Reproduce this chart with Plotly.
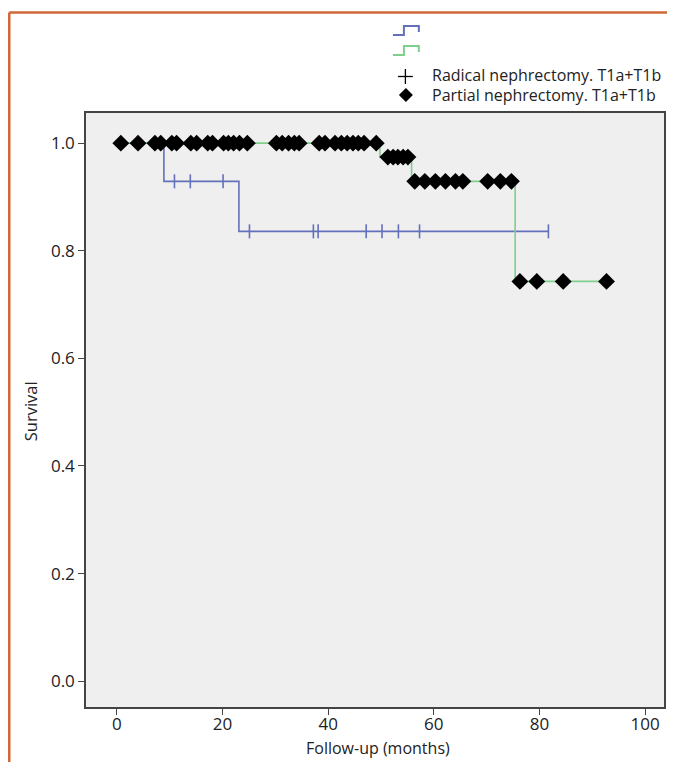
import plotly.graph_objects as go

# ---------------- data ----------------
radical_step_t = [0, 8.9, 23.1, 81.7]
radical_step_s = [1.0, 0.929, 0.836, 0.836]
radical_censor_t = [10.9, 13.9, 20.1, 25.1, 37.2, 38.1, 47.2, 50.2, 53.3, 57.3, 81.7]

partial_step_t = [0, 49.8, 55.8, 75.4, 92.7]
partial_step_s = [1.0, 0.974, 0.929, 0.743, 0.743]
partial_censor_t = [0.75, 4.0, 7.2, 8.3, 10.4, 11.3, 14.0, 15.1, 17.2, 18.1, 20.2, 21.1, 22.1,
                    23.2, 24.7, 30.2, 31.3, 32.5, 33.6, 34.5, 38.3, 39.4, 41.3, 42.5, 43.6,
                    44.7, 45.7, 46.8, 49.1, 51.3, 52.3, 53.2, 54.2, 55.1, 56.4, 58.3, 60.3,
                    62.2, 64.1, 65.5, 70.2, 72.6, 74.7, 76.3, 79.5, 84.5, 92.7]

x_ticks = [0, 20, 40, 60, 80, 100]
y_ticks = [0.0, 0.2, 0.4, 0.6, 0.8, 1.0]
legend_labels = ["Radical nephrectomy. T1a+T1b", "Partial nephrectomy. T1a+T1b"]


def surv_at(t, ts, ss):
    val = ss[0]
    for tt, s in zip(ts, ss):
        if t >= tt:
            val = s
    return val


radical_censor_s = [surv_at(t, radical_step_t, radical_step_s) for t in radical_censor_t]
partial_censor_s = [surv_at(t, partial_step_t, partial_step_s) for t in partial_censor_t]

BLUE = "#6470b9"
GREEN = "#7ecf8c"
FONT = "Open Sans"

# page offset (body margin) and target page-pixel geometry
OFF = 8
W, H = 675 - 2 * OFF, 770 - 2 * OFF
L, R, T, B = 86 - OFF, 666 - OFF, 113 - OFF, 707 - OFF
X0_PX, X100_PX = 117, 647          # page pixels of x=0 and x=100
XMIN = (86 - X0_PX) / ((X100_PX - X0_PX) / 100)
XMAX = (666 - X0_PX) / ((X100_PX - X0_PX) / 100)


def px(p):  # page pixel x -> paper
    return (p - OFF - L) / (R - L)


def py(p):  # page pixel y -> paper
    return (B - (p - OFF)) / (B - T)


fig = go.Figure()
fig.add_trace(go.Scatter(x=radical_step_t, y=radical_step_s, mode="lines",
                         line=dict(color=BLUE, width=1.6, shape="hv"), showlegend=False))
fig.add_trace(go.Scatter(x=partial_step_t, y=partial_step_s, mode="lines",
                         line=dict(color=GREEN, width=1.6, shape="hv"), showlegend=False))
fig.add_trace(go.Scatter(x=radical_censor_t, y=radical_censor_s, mode="markers",
                         marker=dict(symbol="line-ns", size=10,
                                     line=dict(color=BLUE, width=1.6)),
                         showlegend=False))
fig.add_trace(go.Scatter(x=partial_censor_t, y=partial_censor_s, mode="markers",
                         marker=dict(symbol="diamond", size=13, color="black",
                                     line=dict(width=0)),
                         showlegend=False))

shapes = []
# orange frame
ORANGE = "#d0693a"
shapes.append(dict(type="line", xref="paper", yref="paper", x0=px(9), x1=px(690),
                   y0=py(12.5), y1=py(12.5), line=dict(color=ORANGE, width=2.5)))
shapes.append(dict(type="line", xref="paper", yref="paper", x0=px(9), x1=px(9),
                   y0=py(12.5), y1=py(790), line=dict(color=ORANGE, width=2.5)))


# legend step glyphs
def step_glyph(y_low, y_high, y_end, color):
    pts = [(394, y_low), (405, y_low), (405, y_high), (420, y_high), (420, y_end)]
    path = "M " + " L ".join(f"{px(a)},{py(b)}" for a, b in pts)
    return dict(type="path", xref="paper", yref="paper", path=path,
                line=dict(color=color, width=2))


shapes.append(step_glyph(35, 26, 32, BLUE))
shapes.append(step_glyph(55, 46, 52, GREEN))
# plus glyph
shapes.append(dict(type="line", xref="paper", yref="paper", x0=px(399), x1=px(414),
                   y0=py(76.5), y1=py(76.5), line=dict(color="black", width=1.3)))
shapes.append(dict(type="line", xref="paper", yref="paper", x0=px(406.5), x1=px(406.5),
                   y0=py(69), y1=py(84), line=dict(color="black", width=1.3)))
# diamond glyph
cx, cy, r = 407, 95, 7
dpath = (f"M {px(cx)},{py(cy - r)} L {px(cx + r)},{py(cy)} L {px(cx)},{py(cy + r)} "
         f"L {px(cx - r)},{py(cy)} Z")
shapes.append(dict(type="path", xref="paper", yref="paper", path=dpath,
                   fillcolor="black", line=dict(color="black", width=0)))

annotations = []
for i, lab in enumerate(legend_labels):
    annotations.append(dict(text=lab, xref="paper", yref="paper", x=px(431),
                            y=py([75.5, 94.5][i]), xanchor="left", yanchor="middle",
                            showarrow=False, font=dict(family=FONT, size=16, color="#222")))
annotations.append(dict(text="Follow-up (months)", xref="paper", yref="paper",
                        x=px(379), y=py(748), xanchor="center", yanchor="middle",
                        showarrow=False, font=dict(family=FONT, size=16, color="#222")))
annotations.append(dict(text="Survival", xref="paper", yref="paper", textangle=-90,
                        x=px(30), y=py(411), xanchor="center", yanchor="middle",
                        showarrow=False, font=dict(family=FONT, size=16.5, color="#222")))

fig.update_layout(
    width=W, height=H,
    margin=dict(l=L, r=W - R, t=T, b=H - B, pad=0),
    paper_bgcolor="white", plot_bgcolor="#efefef",
    shapes=shapes, annotations=annotations, showlegend=False,
    font=dict(family=FONT, size=17, color="#222"),
)
fig.update_xaxes(range=[XMIN, XMAX], tickvals=x_ticks, ticks="outside", ticklen=6,
                 tickcolor="#444", showline=True, linecolor="#444", linewidth=1.5,
                 mirror=True, showgrid=False, zeroline=False, ticklabelstandoff=-5,
                 tickfont=dict(family=FONT, size=17, color="#222"))
fig.update_yaxes(range=[-0.048, 1.056], tickvals=y_ticks, tickformat=".1f",
                 ticks="outside", ticklen=6, tickcolor="#444", showline=True,
                 linecolor="#444", linewidth=1.5, mirror=True, showgrid=False,
                 zeroline=False, tickfont=dict(family=FONT, size=17, color="#222"))

fig.write_html("out.html")
